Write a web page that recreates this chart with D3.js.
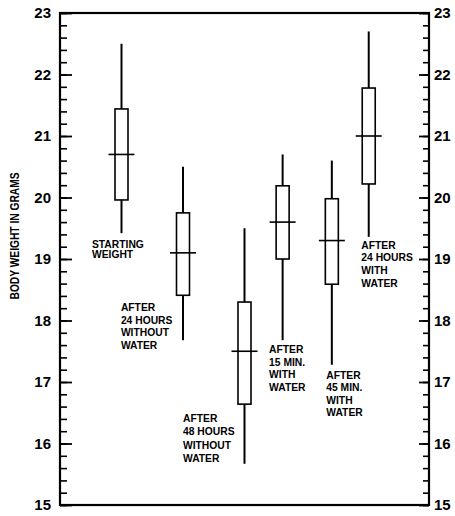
<!DOCTYPE html>
<html>
<head>
<meta charset="utf-8">
<script src="https://cdn.jsdelivr.net/npm/d3@7/dist/d3.min.js"></script>
<style>
  html, body { margin: 0; padding: 0; background: #fff; }
  svg { display: block; }
  text { font-family: "Liberation Sans", Arial, sans-serif; fill: #000; }
</style>
</head>
<body>
<svg id="chart" width="455" height="516"></svg>
<script>
// ---- data ----
const categories = [
  ["STARTING", "WEIGHT"],
  ["AFTER", "24 HOURS", "WITHOUT", "WATER"],
  ["AFTER", "48 HOURS", "WITHOUT", "WATER"],
  ["AFTER", "15 MIN.", "WITH", "WATER"],
  ["AFTER", "45 MIN.", "WITH", "WATER"],
  ["AFTER", "24 HOURS", "WITH", "WATER"]
];
const slot     = [1.0, 2.0, 3.0, 3.62, 4.42, 5.02];   // horizontal position on the chart's x-axis (units)
const maxVal   = [22.5, 20.5, 19.5, 20.7, 20.6, 22.7];
const upperBox = [21.44, 19.75, 18.3, 20.19, 19.98, 21.78];
const median   = [20.7, 19.1, 17.5, 19.6, 19.3, 21.0];
const lowerBox = [19.96, 18.41, 16.64, 19.0, 18.59, 20.22];
const minVal   = [19.42, 17.68, 15.67, 17.68, 17.28, 19.36];
const majorTicks = [15, 16, 17, 18, 19, 20, 21, 22, 23];
const yTitle = "BODY WEIGHT IN GRAMS";

// label anchors (in data units: slot position of left edge, value at first baseline) and line spacing
const labelAnchor = [
  {x: 0.52, y: 19.18, lh: 10.5},
  {x: 0.99, y: 18.15, lh: 12.6},
  {x: 2.0,  y: 16.35, lh: 13.5},
  {x: 3.4,  y: 17.47, lh: 12.7},
  {x: 4.33, y: 17.05, lh: 12.5},
  {x: 4.9,  y: 19.17, lh: 12.8}
];

// ---- layout ----
const L = 60, R = 429, T = 13, B = 505;
const svg = d3.select("#chart");
const x = d3.scaleLinear().domain([0, 6]).range([L, R]);
const y = d3.scaleLinear().domain([15, 23]).range([B, T]);
const minorTicks = d3.range(150, 231, 2).map(v => v / 10);

// minor ticks left
svg.append("g").attr("transform", `translate(${L},0)`)
  .call(d3.axisLeft(y).tickValues(minorTicks).tickSizeInner(-7).tickSizeOuter(0).tickFormat(""))
  .call(g => g.select(".domain").remove())
  .call(g => g.selectAll("line").attr("stroke", "#000").attr("stroke-width", 1.6));
// major ticks left
svg.append("g").attr("transform", `translate(${L},0)`)
  .call(d3.axisLeft(y).tickValues(majorTicks).tickSizeInner(-12).tickSizeOuter(0).tickPadding(9).tickFormat(d3.format("d")))
  .call(g => g.select(".domain").remove())
  .call(g => g.selectAll("line").attr("stroke", "#000").attr("stroke-width", 1.8))
  .call(g => g.selectAll("text").attr("font-size", 15).attr("font-weight", "bold")
     .attr("font-family", "'Liberation Sans', Arial, sans-serif"));
// minor ticks right
svg.append("g").attr("transform", `translate(${R},0)`)
  .call(d3.axisRight(y).tickValues(minorTicks).tickSizeInner(-6).tickSizeOuter(0).tickFormat(""))
  .call(g => g.select(".domain").remove())
  .call(g => g.selectAll("line").attr("stroke", "#000").attr("stroke-width", 1.6));
// major ticks right
svg.append("g").attr("transform", `translate(${R},0)`)
  .call(d3.axisRight(y).tickValues(majorTicks).tickSizeInner(-10).tickSizeOuter(0).tickPadding(5).tickFormat(d3.format("d")))
  .call(g => g.select(".domain").remove())
  .call(g => g.selectAll("line").attr("stroke", "#000").attr("stroke-width", 1.8))
  .call(g => g.selectAll("text").attr("font-size", 15).attr("font-weight", "bold")
     .attr("font-family", "'Liberation Sans', Arial, sans-serif"));

// frame
svg.append("rect")
  .attr("x", x(0)).attr("y", y(23))
  .attr("width", x(6) - x(0)).attr("height", y(15) - y(23))
  .attr("fill", "none").attr("stroke", "#000").attr("stroke-width", 2.2);

// y title
svg.append("text")
  .attr("transform", `translate(19,${(y(15) + y(23)) / 2 - 23}) rotate(-90)`)
  .attr("text-anchor", "middle")
  .attr("font-size", 12).attr("font-weight", "bold")
  .attr("textLength", 127).attr("lengthAdjust", "spacingAndGlyphs")
  .text(yTitle);

// box plots
const data = categories.map((c, i) => ({
  lines: c, pos: slot[i], hi: maxVal[i], q3: upperBox[i], med: median[i], q1: lowerBox[i], lo: minVal[i], lab: labelAnchor[i]
}));
const g = svg.append("g");
const boxW = 13, medW = 26;
const items = g.selectAll("g.box").data(data).join("g").attr("class", "box");
items.append("line")
  .attr("x1", d => x(d.pos)).attr("x2", d => x(d.pos))
  .attr("y1", d => y(d.hi)).attr("y2", d => y(d.lo))
  .attr("stroke", "#000").attr("stroke-width", 2);
items.append("rect")
  .attr("x", d => x(d.pos) - boxW / 2).attr("width", boxW)
  .attr("y", d => y(d.q3)).attr("height", d => y(d.q1) - y(d.q3))
  .attr("fill", "#fff").attr("stroke", "#000").attr("stroke-width", 1.6);
items.append("line")
  .attr("x1", d => x(d.pos) - medW / 2).attr("x2", d => x(d.pos) + medW / 2)
  .attr("y1", d => y(d.med)).attr("y2", d => y(d.med))
  .attr("stroke", "#000").attr("stroke-width", 1.6);

// labels
items.append("text")
  .attr("font-size", 10.3).attr("font-weight", "bold")
  .each(function(d) {
    const t = d3.select(this);
    d.lines.forEach((ln, k) => {
      t.append("tspan")
        .attr("x", x(d.lab.x))
        .attr("y", y(d.lab.y) + k * d.lab.lh)
        .text(ln);
    });
  });
</script>
</body>
</html>
